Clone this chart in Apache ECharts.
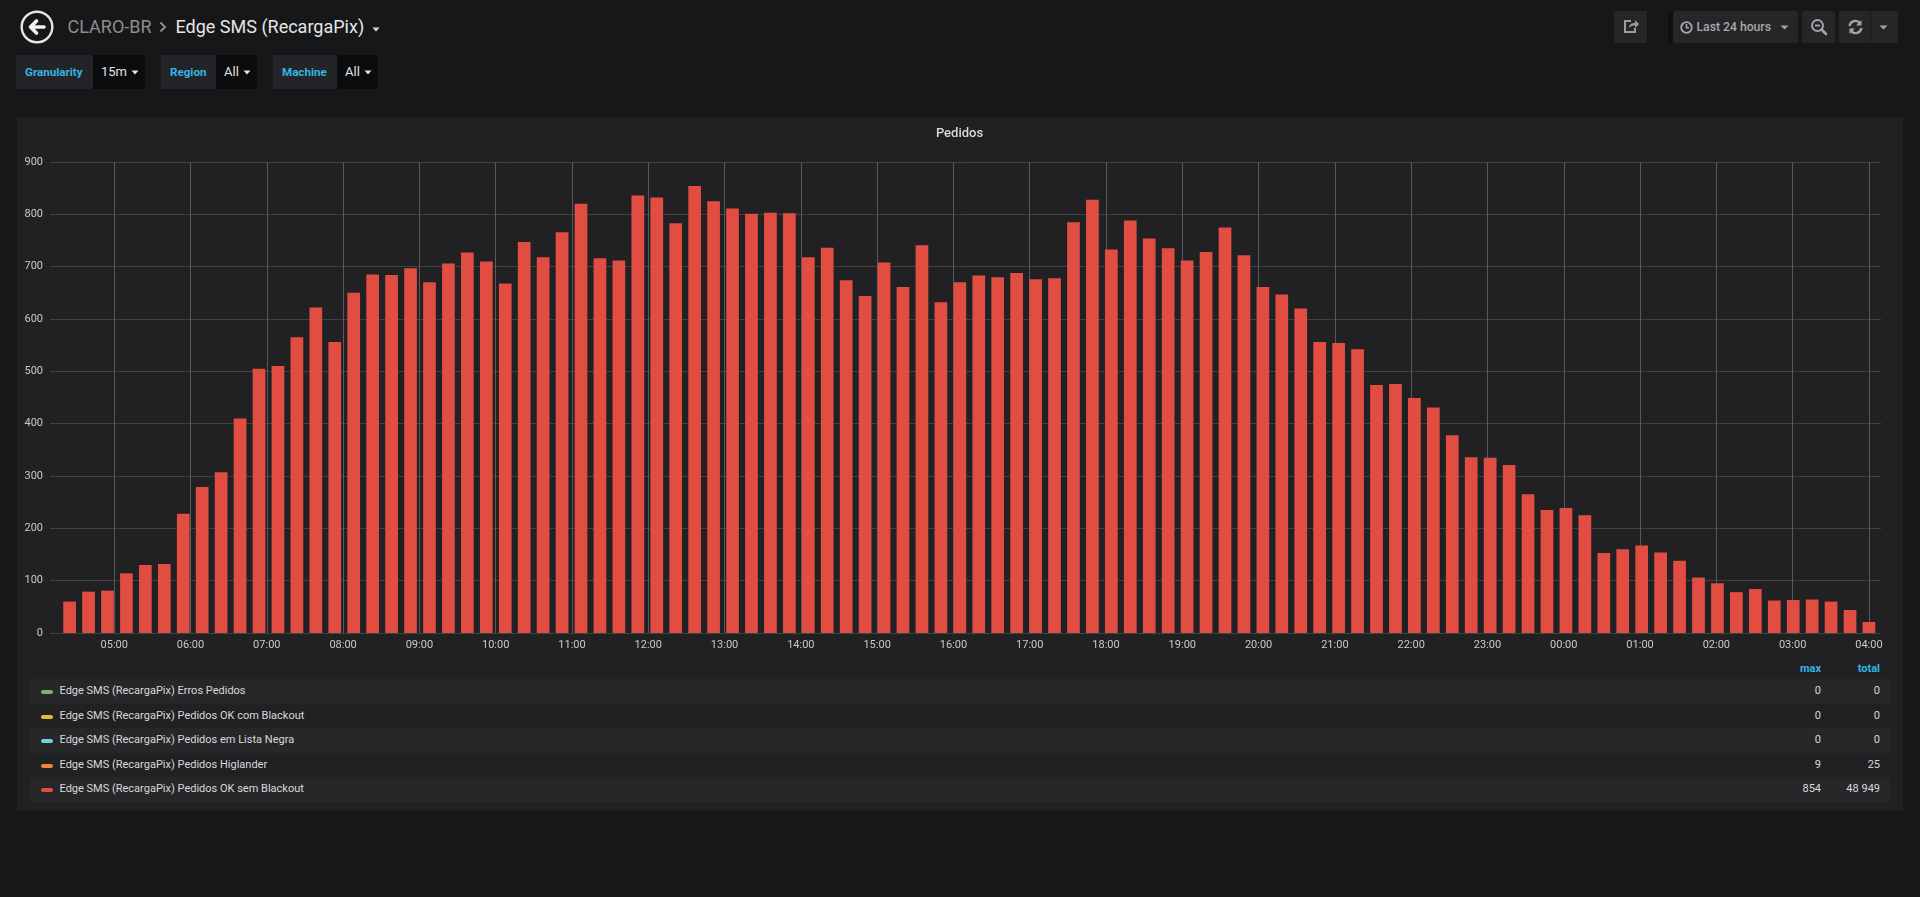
<!DOCTYPE html>
<html>
<head>
<meta charset="utf-8">
<script src="https://cdn.jsdelivr.net/npm/echarts@6/dist/echarts.min.js"></script>
<style>
  html, body { margin:0; padding:0; }
  body { width:1920px; height:897px; overflow:hidden; background:#161719; font-family: Roboto, "Noto Sans", "DejaVu Sans", sans-serif; position:relative; }
  .abs { position:absolute; }
  .hdr { font-size:18px; line-height:22px; top:15.7px; white-space:nowrap; }
  .lbl { background:#232428; color:#33b5e5; font-size:11.6px; font-weight:700; height:34px; line-height:34px; top:55px; box-sizing:border-box; white-space:nowrap; }
  .val { background:#0b0c0e; color:#e3e3e3; font-size:13px; height:34px; line-height:34px; top:55px; box-sizing:border-box; white-space:nowrap; }
  .btn { background:#262629; top:11px; height:32px; border-radius:2px; }
  .row { left:30px; width:1860px; height:24.5px; }
  .rowbg { background:#27272a; }
  .ltxt { font-size:11px; color:#d8d9da; line-height:24.5px; white-space:nowrap; }
  .icon { width:12px; height:4px; border-radius:2px; }
  .num { font-size:11px; color:#d8d9da; line-height:24.5px; text-align:right; width:80px; white-space:nowrap; }
  .th { font-size:11px; font-weight:700; color:#33b5e5; text-align:right; width:80px; line-height:14px; }
</style>
</head>
<body>
<!-- header -->
<svg class="abs" style="left:19.7px;top:9.7px" width="34" height="34" viewBox="0 0 34 34">
  <circle cx="17" cy="17" r="15.3" fill="none" stroke="#e6e6e6" stroke-width="2.4"/>
  <path d="M10.5 17 L16.5 11 M10.5 17 L16.5 23 M11 17 L24 17" stroke="#f2f2f2" stroke-width="3.6" stroke-linecap="round" stroke-linejoin="round" fill="none"/>
</svg>
<div class="abs hdr" style="left:67.5px;color:#8e8e8e">CLARO-BR</div>
<svg class="abs" style="left:158px;top:21px" width="10" height="12" viewBox="0 0 10 12">
  <path d="M2.5 1.5 L7 6 L2.5 10.5" stroke="#8e8e8e" stroke-width="2" fill="none"/>
</svg>
<div class="abs hdr" style="left:175.5px;color:#e6e6e6">Edge SMS (RecargaPix)</div>
<svg class="abs" style="left:372px;top:27px" width="8" height="5" viewBox="0 0 8 5"><path d="M0.5 0.5 L7.5 0.5 L4 4.5 Z" fill="#d8d9da"/></svg>

<!-- variables -->
<div class="abs lbl" style="left:16px;width:77px;padding-left:9px">Granularity</div>
<div class="abs val" style="left:93px;width:52px;padding-left:8px">15m</div>
<svg class="abs" style="left:130.5px;top:70px" width="8" height="5" viewBox="0 0 8 5"><path d="M0.5 0.5 L7.5 0.5 L4 4.5 Z" fill="#e3e3e3"/></svg>

<div class="abs lbl" style="left:161px;width:55px;padding-left:9px">Region</div>
<div class="abs val" style="left:216px;width:41px;padding-left:8px">All</div>
<svg class="abs" style="left:242.5px;top:70px" width="8" height="5" viewBox="0 0 8 5"><path d="M0.5 0.5 L7.5 0.5 L4 4.5 Z" fill="#e3e3e3"/></svg>

<div class="abs lbl" style="left:273px;width:64px;padding-left:9px">Machine</div>
<div class="abs val" style="left:337px;width:41px;padding-left:8px">All</div>
<svg class="abs" style="left:363.5px;top:70px" width="8" height="5" viewBox="0 0 8 5"><path d="M0.5 0.5 L7.5 0.5 L4 4.5 Z" fill="#e3e3e3"/></svg>

<!-- right buttons -->
<div class="abs btn" style="left:1614px;width:33px"></div>
<svg class="abs" style="left:1622px;top:18px" width="18" height="16" viewBox="0 0 18 16">
  <path d="M9 3 H3 V14 H13 V10" stroke="#9b9ba0" stroke-width="2" fill="none"/>
  <path d="M7 10 C7 6 10 5 13 5 V2 L17 6 L13 10 V7.5 C10.5 7.5 8.5 8 7 10 Z" fill="#9b9ba0"/>
</svg>
<div class="abs" style="left:1668px;top:11px;width:5px;height:32px;background:#0e0f11"></div>
<div class="abs btn" style="left:1673px;width:125px"></div>
<svg class="abs" style="left:1680px;top:21px" width="13" height="13" viewBox="0 0 13 13">
  <circle cx="6.5" cy="6.5" r="5.3" stroke="#a3a3a8" stroke-width="1.8" fill="none"/>
  <path d="M6.5 3 V6.8 H9" stroke="#a3a3a8" stroke-width="1.6" fill="none"/>
</svg>
<div class="abs" style="left:1696.5px;top:19px;font-size:12.2px;line-height:16px;font-weight:500;color:#a8a8ad;white-space:nowrap">Last 24 hours</div>
<svg class="abs" style="left:1780px;top:24.5px" width="9" height="5" viewBox="0 0 9 5"><path d="M0.5 0.5 L8.5 0.5 L4.5 4.5 Z" fill="#a3a3a8"/></svg>
<div class="abs btn" style="left:1802px;width:33px"></div>
<svg class="abs" style="left:1810px;top:18px" width="18" height="18" viewBox="0 0 18 18">
  <circle cx="7.5" cy="7.5" r="5.5" stroke="#a3a3a8" stroke-width="2" fill="none"/>
  <path d="M5 7.5 H10" stroke="#a3a3a8" stroke-width="2"/>
  <path d="M11.5 11.5 L16 16" stroke="#a3a3a8" stroke-width="2.6" stroke-linecap="round"/>
</svg>
<div class="abs btn" style="left:1839px;width:59px"></div>
<div class="abs" style="left:1870px;top:11px;width:1px;height:32px;background:#18191b"></div>
<svg class="abs" style="left:1847px;top:19px" width="17" height="16" viewBox="0 0 17 16">
  <path d="M2.5 7 A6 6 0 0 1 13 4" stroke="#a3a3a8" stroke-width="2.2" fill="none"/>
  <path d="M14.5 1 V6.5 H9 Z" fill="#a3a3a8"/>
  <path d="M14.5 9 A6 6 0 0 1 4 12" stroke="#a3a3a8" stroke-width="2.2" fill="none"/>
  <path d="M2.5 15 V9.5 H8 Z" fill="#a3a3a8"/>
</svg>
<svg class="abs" style="left:1879px;top:25px" width="9" height="5" viewBox="0 0 9 5"><path d="M0.5 0.5 L8.5 0.5 L4.5 4.5 Z" fill="#a3a3a8"/></svg>

<!-- panel -->
<div class="abs" style="left:17px;top:117px;width:1886px;height:694px;background:#212124"></div>
<div id="chart" class="abs" style="left:17px;top:117px;width:1885px;height:540px"></div>

<!-- legend -->
<div id="legend"></div>

<script>
// ---------------- data ----------------
const categories = [
  "04:15","04:30","04:45",
  "05:00","05:15","05:30","05:45","06:00","06:15","06:30","06:45",
  "07:00","07:15","07:30","07:45","08:00","08:15","08:30","08:45",
  "09:00","09:15","09:30","09:45","10:00","10:15","10:30","10:45",
  "11:00","11:15","11:30","11:45","12:00","12:15","12:30","12:45",
  "13:00","13:15","13:30","13:45","14:00","14:15","14:30","14:45",
  "15:00","15:15","15:30","15:45","16:00","16:15","16:30","16:45",
  "17:00","17:15","17:30","17:45","18:00","18:15","18:30","18:45",
  "19:00","19:15","19:30","19:45","20:00","20:15","20:30","20:45",
  "21:00","21:15","21:30","21:45","22:00","22:15","22:30","22:45",
  "23:00","23:15","23:30","23:45","00:00","00:15","00:30","00:45",
  "01:00","01:15","01:30","01:45","02:00","02:15","02:30","02:45",
  "03:00","03:15","03:30","03:45","04:00"
];
const pedidosOkSemBlackout = [
  60,79,81,
  114,130,132,228,279,307,410,505,
  510,565,622,556,650,685,684,697,
  670,706,727,710,668,747,718,766,
  820,716,712,836,832,783,854,825,
  811,801,803,802,718,736,674,644,
  708,661,741,632,670,683,680,688,
  676,678,785,828,733,788,754,735,
  712,728,775,722,661,647,620,556,
  554,542,474,476,449,431,378,336,
  335,321,265,235,239,225,153,160,
  167,154,138,106,95,78,84,62,
  63,64,60,44,21
];
const yTicks = [0,100,200,300,400,500,600,700,800,900];
const legendNames = [
  "Edge SMS (RecargaPix) Erros Pedidos",
  "Edge SMS (RecargaPix) Pedidos OK com Blackout",
  "Edge SMS (RecargaPix) Pedidos em Lista Negra",
  "Edge SMS (RecargaPix) Pedidos Higlander",
  "Edge SMS (RecargaPix) Pedidos OK sem Blackout"
];
const legendColors = ["#7eb26d","#eab839","#6ed0e0","#ef843c","#e24d42"];
const legendMax = ["0","0","0","9","854"];
const legendTotal = ["0","0","0","25","48 949"];
const rangeStartLabel = "04:09:30";
const barColor = "#e24d42";

// ---------------- build timestamps ----------------
const MIN = 60000, HOUR = 3600000;
function ts(label, day) {
  const p = label.split(":").map(Number);
  return new Date(2024, 0, 1 + day, p[0], p[1], p[2] || 0).getTime();
}
let day = 0, prevH = -1;
const times = categories.map(c => {
  const h = +c.split(":")[0];
  if (h < prevH) day++;
  prevH = h;
  return ts(c, day);
});
const rangeStart = ts(rangeStartLabel, 0);
const rangeEnd = rangeStart + 24 * HOUR;
const barSpan = 10 * MIN;          // Grafana draws each bar from its timestamp forward
const data = times.map((t, i) => [t, pedidosOkSemBlackout[i]]);

// ---------------- chart ----------------
const chart = echarts.init(document.getElementById('chart'), null, {renderer: 'canvas'});
chart.setOption({
  backgroundColor: 'transparent',
  animation: false,
  title: {
    text: 'Pedidos', left: 'center', top: 5,
    textStyle: {color: '#d8d9da', fontSize: 13, fontWeight: 500, fontFamily: 'Roboto'}
  },
  grid: {left: 33, right: 21, top: 45, height: 471, containLabel: false},
  xAxis: [
    {
      type: 'time', min: rangeStart, max: rangeEnd,
      splitNumber: 24, minInterval: HOUR, maxInterval: HOUR,
      axisLine: {show: false}, axisTick: {show: false},
      axisLabel: {
        formatter: '{HH}:{mm}', color: '#c8c9ca', fontSize: 11, fontFamily: 'Roboto',
        margin: 7, showMinLabel: false, showMaxLabel: false, hideOverlap: false
      },
      splitLine: {show: true, showMinLine: false, showMaxLine: false,
                  lineStyle: {color: '#58595c', width: 1}}
    },
    {
      type: 'time', show: false,
      min: rangeStart - barSpan / 2, max: rangeEnd - barSpan / 2
    }
  ],
  yAxis: {
    type: 'value', min: yTicks[0], max: yTicks[yTicks.length - 1], interval: yTicks[1] - yTicks[0],
    axisLine: {show: false}, axisTick: {show: false},
    axisLabel: {color: '#c8c9ca', fontSize: 11, fontFamily: 'Roboto', margin: 7},
    splitLine: {show: true, lineStyle: {color: '#404144', width: 1}}
  },
  series: [{
    name: legendNames[4], type: 'bar', xAxisIndex: 1,
    data: data, barWidth: 12.7,
    itemStyle: {color: barColor},
    clip: true
  }]
});

// ---------------- legend table ----------------
const lg = document.getElementById('legend');
let html = '<div class="abs th" style="left:1741px;top:662px">max</div>' +
           '<div class="abs th" style="left:1800px;top:662px">total</div>';
const rowTops = [679, 703.5, 728, 752.5, 777];
legendNames.forEach((n, i) => {
  const top = rowTops[i];
  html += `<div class="abs row ${i % 2 === 0 ? 'rowbg' : ''}" style="top:${top}px"></div>`;
  html += `<div class="abs icon" style="left:41px;top:${top + 11}px;background:${legendColors[i]}"></div>`;
  html += `<div class="abs ltxt" style="left:59.5px;top:${top}px">${n}</div>`;
  html += `<div class="abs num" style="left:1741px;top:${top}px">${legendMax[i]}</div>`;
  html += `<div class="abs num" style="left:1800px;top:${top}px">${legendTotal[i]}</div>`;
});
lg.innerHTML = html;
</script>
</body>
</html>
